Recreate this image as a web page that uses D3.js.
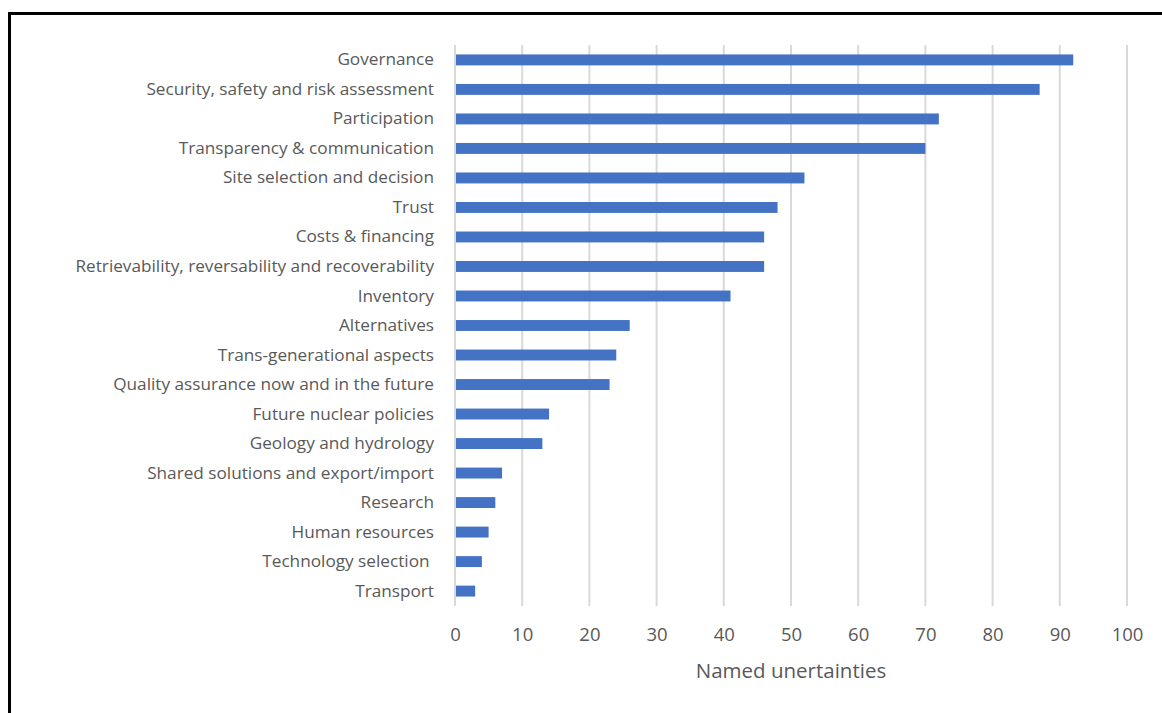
<!DOCTYPE html>
<html>
<head>
<meta charset="utf-8">
<script src="https://d3js.org/d3.v7.min.js"></script>
<style>
  html, body { margin: 0; padding: 0; background: #fff; }
  svg { font-family: 'Open Sans', sans-serif; display: block; }
  svg text { white-space: pre; }
</style>
</head>
<body>
<div id="chart"></div>
<script>
// categories top to bottom
const categories = [
  'Governance',
  'Security, safety and risk assessment',
  'Participation',
  'Transparency & communication',
  'Site selection and decision',
  'Trust',
  'Costs & financing',
  'Retrievability, reversability and recoverability',
  'Inventory',
  'Alternatives',
  'Trans-generational aspects',
  'Quality assurance now and in the future',
  'Future nuclear policies',
  'Geology and hydrology',
  'Shared solutions and export/import',
  'Research',
  'Human resources',
  'Technology selection ',
  'Transport'
]
const counts = [92, 87, 72, 70, 52, 48, 46, 46, 41, 26, 24, 23, 14, 13, 7, 6, 5, 4, 3]
const xTicks = [0, 10, 20, 30, 40, 50, 60, 70, 80, 90, 100]
const xTitle = 'Named unertainties'

const W = 1162, H = 713
const margin = {top: 45, right: 35, bottom: 107, left: 455}
const width = W - margin.left - margin.right
const height = H - margin.top - margin.bottom

const svg = d3.select('#chart').append('svg')
  .attr('width', W).attr('height', H)

// outer frame
svg.append('rect')
  .attr('x', 9.5).attr('y', 13.5)
  .attr('width', W + 20).attr('height', H + 20)
  .attr('fill', 'none').attr('stroke', '#000').attr('stroke-width', 3)

const g = svg.append('g').attr('transform', `translate(${margin.left},${margin.top})`)

const x = d3.scaleLinear().domain([0, 100]).range([0, width])
const y = d3.scaleBand().domain(categories).range([0, height]).paddingInner(0.63).paddingOuter(0.32)

// gridlines
g.selectAll('.grid').data(xTicks).enter().append('line')
  .attr('x1', d => x(d)).attr('x2', d => x(d))
  .attr('y1', 0).attr('y2', height)
  .attr('stroke', '#d9d9d9').attr('stroke-width', 2)

// bars
g.selectAll('.bar').data(categories).enter().append('rect')
  .attr('x', x(0) + 1)
  .attr('y', d => y(d))
  .attr('width', (d, i) => x(counts[i]) - x(0) - 1)
  .attr('height', y.bandwidth())
  .attr('fill', '#4472c4')

// x axis labels
const xAxis = g.append('g')
  .attr('transform', `translate(0,${height})`)
  .call(d3.axisBottom(x).tickValues(xTicks).tickSize(0).tickPadding(22))
xAxis.select('.domain').remove()
xAxis.selectAll('text').attr('font-size', 18.5).attr('fill', '#595959')
  .attr('font-family', "'Open Sans', sans-serif")

// y axis labels
const yAxis = g.append('g')
  .call(d3.axisLeft(y).tickSize(0).tickPadding(21))
yAxis.select('.domain').remove()
yAxis.selectAll('text').attr('font-size', 17.2).attr('fill', '#595959')
  .attr('font-family', "'Open Sans', sans-serif")

// axis title
g.append('text')
  .attr('x', width / 2).attr('y', height + 72)
  .attr('text-anchor', 'middle')
  .attr('font-size', 20.5).attr('fill', '#595959')
  .text(xTitle)
</script>
</body>
</html>
